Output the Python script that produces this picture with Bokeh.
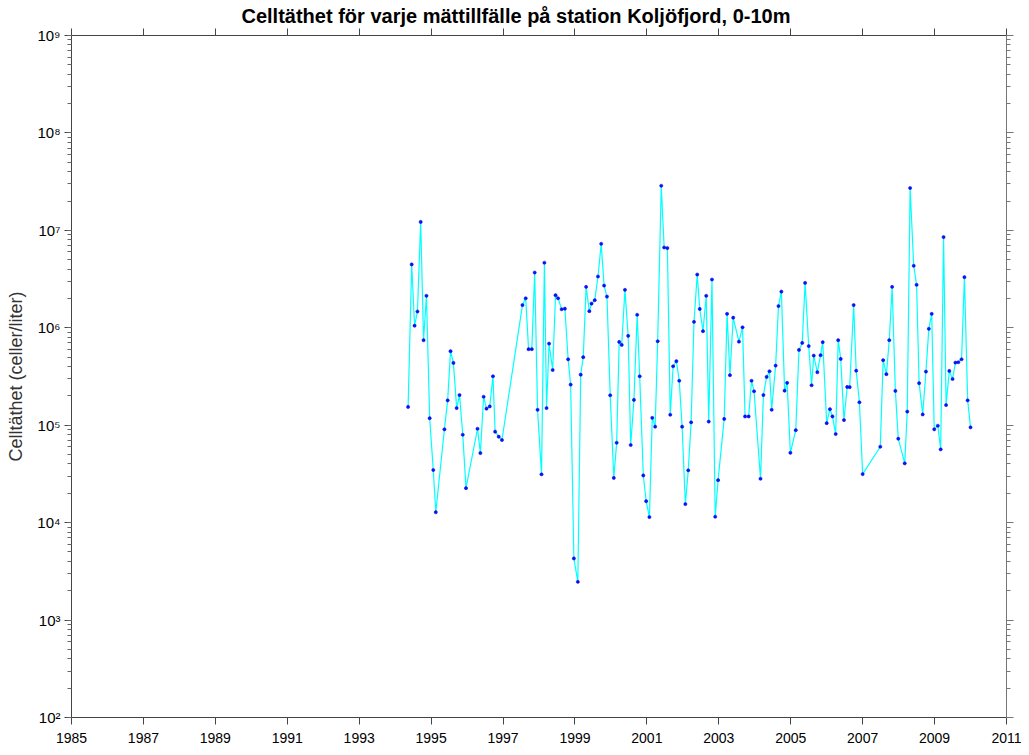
from bokeh.plotting import figure
from bokeh.models import (Range1d, LinearAxis, LogAxis, FixedTicker, LogTicker,
                          CustomJSTickFormatter)
from bokeh.embed import file_html
from bokeh.resources import INLINE

title_text = "Celltäthet för varje mättillfälle på station Koljöfjord, 0-10m"
y_label = "Celltäthet (celler/liter)"
year_ticks = list(range(1985, 2012, 2))

dates = [1994.36, 1994.46, 1994.54, 1994.62, 1994.71, 1994.79, 1994.87, 1994.96,
         1995.06, 1995.13, 1995.37, 1995.46, 1995.54, 1995.62, 1995.71, 1995.79,
         1995.88, 1995.97, 1996.29, 1996.37, 1996.46, 1996.54, 1996.63, 1996.72,
         1996.78, 1996.88, 1996.97, 1997.54, 1997.63, 1997.71, 1997.80, 1997.88,
         1997.96, 1998.07, 1998.15, 1998.21, 1998.28, 1998.38, 1998.46, 1998.53,
         1998.63, 1998.72, 1998.81, 1998.88, 1998.97, 1999.08, 1999.16, 1999.23,
         1999.31, 1999.40, 1999.46, 1999.55, 1999.64, 1999.73, 1999.81, 1999.89,
         1999.98, 2000.08, 2000.16, 2000.23, 2000.30, 2000.39, 2000.48, 2000.55,
         2000.64, 2000.73, 2000.80, 2000.90, 2000.98, 2001.07, 2001.15, 2001.23,
         2001.30, 2001.40, 2001.48, 2001.57, 2001.65, 2001.73, 2001.82, 2001.90,
         2001.98, 2002.07, 2002.15, 2002.23, 2002.31, 2002.40, 2002.47, 2002.56,
         2002.65, 2002.72, 2002.81, 2002.90, 2002.98, 2003.15, 2003.23, 2003.31,
         2003.40, 2003.56, 2003.66, 2003.73, 2003.83, 2003.91, 2003.98, 2004.16,
         2004.24, 2004.33, 2004.41, 2004.47, 2004.58, 2004.66, 2004.74, 2004.83,
         2004.90, 2004.99, 2005.14, 2005.23, 2005.32, 2005.40, 2005.50, 2005.58,
         2005.64, 2005.74, 2005.83, 2005.89, 2006.00, 2006.09, 2006.16, 2006.25,
         2006.32, 2006.39, 2006.48, 2006.57, 2006.64, 2006.75, 2006.82, 2006.91,
         2007.00, 2007.49, 2007.57, 2007.66, 2007.74, 2007.82, 2007.91, 2007.99,
         2008.17, 2008.24, 2008.32, 2008.42, 2008.50, 2008.57, 2008.67, 2008.76,
         2008.84, 2008.92, 2008.99, 2009.09, 2009.17, 2009.25, 2009.32, 2009.41,
         2009.50, 2009.58, 2009.66, 2009.75, 2009.83, 2009.92, 2010.00]

cells = [1.54e5, 4.47e6, 1.05e6, 1.47e6, 1.22e7, 7.46e5, 2.13e6, 1.18e5,
         3.47e4, 1.28e4, 9.08e4, 1.80e5, 5.75e5, 4.36e5, 1.50e5, 2.04e5,
         7.98e4, 2.26e4, 9.20e4, 5.18e4, 1.96e5, 1.48e5, 1.56e5, 3.18e5,
         8.58e4, 7.62e4, 7.05e4, 1.71e6, 2.01e6, 6.03e5, 6.03e5, 3.69e6,
         1.44e5, 3.13e4, 4.65e6, 1.50e5, 6.88e5, 3.69e5, 2.16e6, 2.01e6,
         1.55e6, 1.57e6, 4.75e5, 2.61e5, 4.29e3, 2.47e3, 3.30e5, 4.99e5,
         2.63e6, 1.48e6, 1.77e6, 1.92e6, 3.36e6, 7.28e6, 2.71e6, 2.09e6,
         2.03e5, 2.88e4, 6.61e4, 7.16e5, 6.67e5, 2.45e6, 8.26e5, 6.26e4,
         1.82e5, 1.36e6, 3.18e5, 3.05e4, 1.66e4, 1.14e4, 1.19e5, 9.66e4,
         7.28e5, 2.87e7, 6.67e6, 6.58e6, 1.28e5, 4.03e5, 4.54e5, 2.86e5,
         9.66e4, 1.55e4, 3.44e4, 1.07e5, 1.15e6, 3.52e6, 1.56e6, 9.23e5,
         2.13e6, 1.09e5, 3.13e6, 1.15e4, 2.73e4, 1.16e5, 1.39e6, 3.26e5,
         1.27e6, 7.21e5, 1.01e6, 1.23e5, 1.23e5, 2.86e5, 2.23e5, 2.82e4,
         2.04e5, 3.13e5, 3.58e5, 1.44e5, 4.09e5, 1.67e6, 2.35e6, 2.26e5,
         2.72e5, 5.21e4, 8.89e4, 5.93e5, 7.00e5, 2.89e6, 6.49e5, 2.57e5,
         5.18e5, 3.50e5, 5.23e5, 7.11e5, 1.05e5, 1.46e5, 1.23e5, 8.12e4,
         7.46e5, 4.79e5, 1.13e5, 2.47e5, 2.46e5, 1.71e6, 3.63e5, 1.72e5,
         3.15e4, 6.01e4, 4.65e5, 3.34e5, 7.46e5, 2.63e6, 2.25e5, 7.27e4,
         4.06e4, 1.38e5, 2.72e7, 4.33e6, 2.76e6, 2.70e5, 1.29e5, 3.55e5,
         9.75e5, 1.39e6, 9.08e4, 9.88e4, 5.65e4, 8.53e6, 1.61e5, 3.61e5,
         2.98e5, 4.39e5, 4.43e5, 4.75e5, 3.31e6, 1.80e5, 9.51e4]

FONT = "Liberation Sans"

p = figure(width=1021, height=747, output_backend="svg", toolbar_location=None,
           y_axis_type="log", x_range=Range1d(1985, 2011), y_range=Range1d(1e2, 1e9),
           min_border_left=71, min_border_right=15, min_border_top=10,
           min_border_bottom=30, x_axis_location="below", y_axis_location="left")

p.title.text = title_text
p.title.align = "left"
p.title.offset = 170
p.title.text_font = FONT
p.title.text_font_size = "20px"
p.title.text_font_style = "bold"
p.title.text_color = "black"
p.title.standoff = 4

p.outline_line_color = None
p.background_fill_color = "white"
p.border_fill_color = "white"
p.xgrid.visible = False
p.ygrid.visible = False

sup = CustomJSTickFormatter(code="""
const s = {'0':'\u2070','1':'\u00b9','2':'\u00b2','3':'\u00b3','4':'\u2074','5':'\u2075','6':'\u2076','7':'\u2077','8':'\u2078','9':'\u2079'};
const e = String(Math.round(Math.log10(tick)));
let out = '';
for (const c of e) { out += s[c]; }
return '10' + out;
""")
blank = CustomJSTickFormatter(code="return '';")

# x axis (bottom)
xa = p.xaxis[0]
xa.ticker = FixedTicker(ticks=year_ticks, minor_ticks=[])
xa.major_tick_out = 7
xa.major_tick_in = 0
xa.minor_tick_out = 0
xa.axis_line_color = "#444444"
xa.major_tick_line_color = "#444444"
xa.major_label_text_font = FONT
xa.major_label_text_font_size = "14px"
xa.major_label_text_color = "black"
xa.major_label_standoff = 8

# y axis (left)
ya = p.yaxis[0]
ya.ticker = LogTicker(num_minor_ticks=10)
ya.formatter = sup
ya.major_tick_out = 7
ya.major_tick_in = 0
ya.minor_tick_out = 4
ya.minor_tick_in = 0
ya.axis_line_color = "#444444"
ya.major_tick_line_color = "#444444"
ya.minor_tick_line_color = "#666666"
ya.major_label_text_font = FONT
ya.major_label_text_font_size = "15px"
ya.major_label_text_color = "black"
ya.major_label_standoff = 4
ya.axis_label = y_label
ya.axis_label_text_font = FONT
ya.axis_label_text_font_size = "18px"
ya.axis_label_text_font_style = "normal"
ya.axis_label_text_color = "#333333"
ya.axis_label_standoff = 8

# top axis (ticks only)
ta = LinearAxis(ticker=FixedTicker(ticks=year_ticks, minor_ticks=[]), formatter=blank)
ta.major_label_standoff = 0
ta.major_tick_out = 7
ta.major_tick_in = 0
ta.minor_tick_out = 0
ta.axis_line_color = "#444444"
ta.major_tick_line_color = "#444444"
p.add_layout(ta, "above")

# right axis (ticks only)
ra = LogAxis(ticker=LogTicker(num_minor_ticks=10), formatter=blank)
ra.major_label_standoff = 0
ra.major_tick_out = 7
ra.major_tick_in = 0
ra.minor_tick_out = 4
ra.minor_tick_in = 0
ra.axis_line_color = "#777777"
ra.major_tick_line_color = "#777777"
ra.minor_tick_line_color = "#777777"
p.add_layout(ra, "right")

p.line(dates, cells, line_color="#00FFFF", line_width=1.2)
p.scatter(dates, cells, size=3.2, fill_color="#1010FF", line_color="#0000DD",
          line_width=0.5)

open("out.html", "w").write(file_html(p, INLINE))
